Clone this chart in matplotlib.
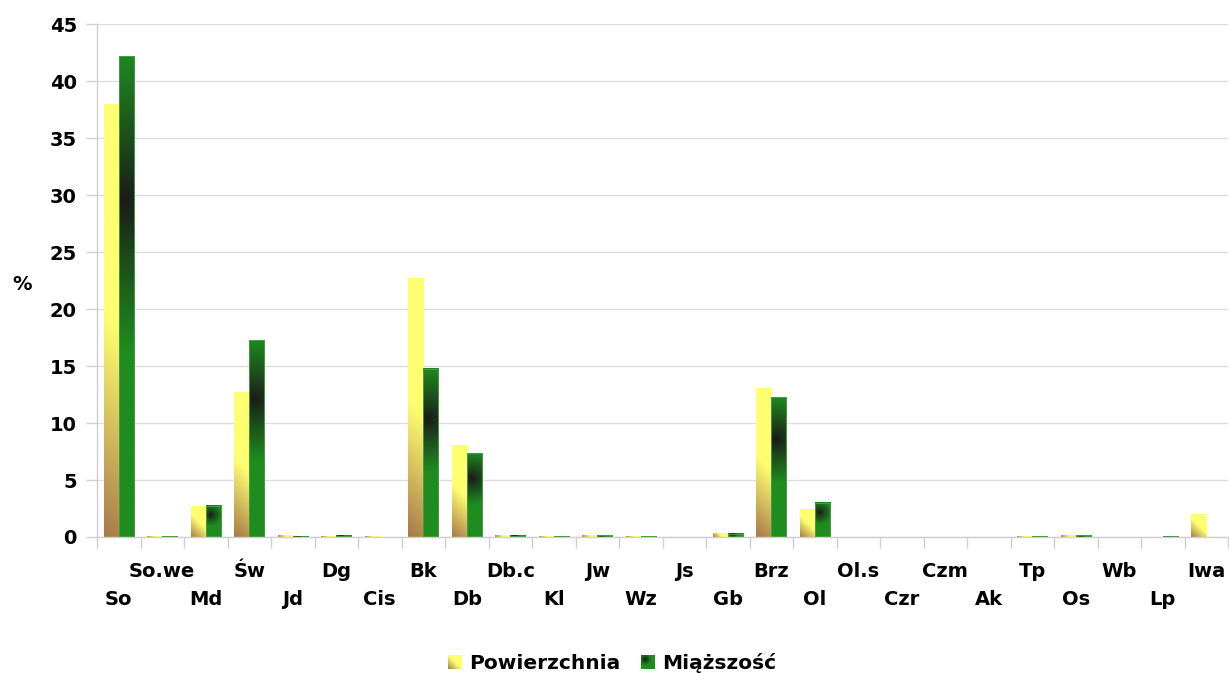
import numpy as np
import matplotlib
matplotlib.use("Agg")
import matplotlib.pyplot as plt
from matplotlib.patches import Patch
from matplotlib.legend_handler import HandlerBase
from matplotlib.image import BboxImage
from matplotlib.transforms import Bbox, TransformedBbox
from matplotlib.ticker import FixedLocator

# Species codes and shares (%) of area and volume
categories = ["So", "So.we", "Md", "Św", "Jd", "Dg", "Cis", "Bk", "Db", "Db.c",
              "Kl", "Jw", "Wz", "Js", "Gb", "Brz", "Ol", "Ol.s", "Czr", "Czm",
              "Ak", "Tp", "Os", "Wb", "Lp", "Iwa"]
powierzchnia = [37.9, 0.05, 2.7, 12.7, 0.1, 0.05, 0.05, 22.7, 8.0, 0.1,
                0.05, 0.15, 0.05, 0.0, 0.35, 13.0, 2.45, 0.0, 0.0, 0.0,
                0.0, 0.02, 0.1, 0.0, 0.0, 1.95]
miazszosc = [42.15, 0.05, 2.75, 17.25, 0.02, 0.1, 0.0, 14.75, 7.35, 0.1,
             0.05, 0.15, 0.05, 0.0, 0.3, 12.25, 3.0, 0.0, 0.0, 0.0,
             0.0, 0.05, 0.15, 0.0, 0.05, 0.0]
series_names = ["Powierzchnia", "Miąższość"]
y_ticks = [0, 5, 10, 15, 20, 25, 30, 35, 40, 45]

FONT = "DejaVu Sans"
YELLOW = np.array([255, 255, 112]) / 255
BROWN = np.array([166, 120, 74]) / 255
GREEN = np.array([31, 140, 31]) / 255
DARK = np.array([26, 26, 26]) / 255


def yellow_gradient(w, h, nx, ny):
    """Diagonal linear gradient, brown at bottom-left to yellow."""
    x = (np.arange(nx) + 0.5) / nx * w
    y = (np.arange(ny) + 0.5) / ny * h
    X, Y = np.meshgrid(x, y)
    s = np.clip(2.0 * (X + Y) / (w + h), 0, 1)[..., None]
    return BROWN * (1 - s) + YELLOW * s


def green_gradient(w, h, nx, ny):
    """Radial gradient, dark core near the upper-left, green outside."""
    x = (np.arange(nx) + 0.5) / nx * w
    y = (np.arange(ny) + 0.5) / ny * h
    X, Y = np.meshgrid(x, y)
    cx, cy = 0.3 * w, 0.7 * h
    r = 0.5 * np.hypot(w, h)
    d = np.hypot(X - cx, Y - cy)
    s = np.clip(d / (0.62 * r), 0, 1) ** 0.9
    s = s[..., None]
    return DARK * (1 - s) + GREEN * s


W_PX, H_PX = 1229, 673
fig = plt.figure(figsize=(W_PX / 100, H_PX / 100), dpi=100)
ax = fig.add_axes([97 / W_PX, 1 - 537 / H_PX, 1131 / W_PX, 513 / H_PX])

n = len(categories)
xpos = np.arange(n)
bw = 0.345
ax.set_xlim(-0.5, n - 0.5)
ax.set_ylim(0, 45)

bars_p = ax.bar(xpos - bw / 2, powierzchnia, width=bw, color="none",
                linewidth=0, zorder=2)
bars_m = ax.bar(xpos + bw / 2, miazszosc, width=bw, color="none",
                edgecolor="#4f9f4f", linewidth=0.6, zorder=3)


def fill_bars(bars, grad):
    for p in bars:
        x0, y0 = p.get_x(), p.get_y()
        w, h = p.get_width(), p.get_height()
        if h <= 0:
            p.set_linewidth(0)
            continue
        (px0, py0), (px1, py1) = ax.transData.transform([(x0, y0), (x0 + w, y0 + h)])
        wp, hp = abs(px1 - px0), abs(py1 - py0)
        nx = max(int(wp) * 2, 4)
        ny = max(int(hp) * 2, 4)
        img = grad(wp, hp, nx, ny)
        ax.imshow(img, extent=(x0, x0 + w, y0, y0 + h), origin="lower",
                  aspect="auto", interpolation="bilinear", zorder=2.5)


fill_bars(bars_p, yellow_gradient)
fill_bars(bars_m, green_gradient)
ax.set_xlim(-0.5, n - 0.5)
ax.set_ylim(0, 45)

# Axes styling
for side in ("top", "right"):
    ax.spines[side].set_visible(False)
for side in ("left", "bottom"):
    ax.spines[side].set_color("#d0d0d0")
    ax.spines[side].set_linewidth(1)

ax.set_yticks(y_ticks)
ax.set_yticklabels([str(t) for t in y_ticks], fontfamily=FONT,
                   fontweight="bold", fontsize=14)
ax.tick_params(axis="y", direction="out", length=8, width=1,
               color="#d0d0d0", pad=6.5)
ax.yaxis.grid(True, color="#dddddd", linewidth=1)
ax.set_axisbelow(True)

ax.set_xticks([])
ax.xaxis.set_minor_locator(FixedLocator(np.arange(-0.5, n, 1.0)))
ax.tick_params(axis="x", which="minor", direction="out", length=8,
               width=1, color="#d0d0d0")

# Category labels in two staggered rows
for i, name in enumerate(categories):
    off = -40 if i % 2 == 1 else -68
    ax.annotate(name, xy=(i, 0), xycoords=("data", "axes fraction"),
                xytext=(0, off * 0.72), textcoords="offset points",
                ha="center", va="baseline", fontfamily=FONT,
                fontweight="bold", fontsize=14, annotation_clip=False)

fig.text(22 / W_PX, 1 - 284 / H_PX, "%", ha="center", va="center",
         fontfamily=FONT, fontweight="bold", fontsize=14)


class GradientHandler(HandlerBase):
    def __init__(self, img):
        super().__init__()
        self.img = img

    def create_artists(self, legend, orig_handle, xdescent, ydescent,
                       width, height, fontsize, trans):
        side = min(width, height)
        bb = Bbox.from_bounds(-xdescent + (width - side) / 2, -ydescent,
                              side, side)
        im = BboxImage(TransformedBbox(bb, trans), origin="lower",
                       interpolation="bilinear")
        im.set_data(self.img)
        return [im]


h1, h2 = Patch(), Patch()
fig.legend([h1, h2], series_names,
           handler_map={h1: GradientHandler(yellow_gradient(13, 13, 26, 26)),
                        h2: GradientHandler(green_gradient(13, 13, 26, 26))},
           loc="center", bbox_to_anchor=(0.498, 1 - 663 / H_PX), ncol=2,
           frameon=False, handlelength=0.65, handleheight=0.65,
           handletextpad=0.4, columnspacing=1.0,
           prop={"family": FONT, "weight": "bold", "size": 14.5})

fig.savefig("out.png", dpi=100, facecolor="white")
